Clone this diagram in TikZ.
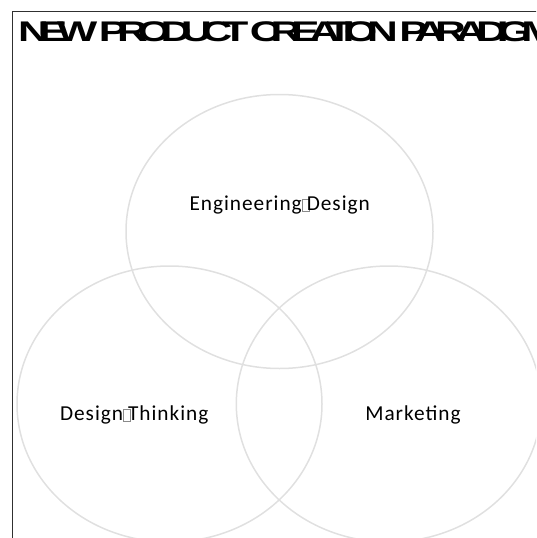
\documentclass[tikz,border=0pt]{standalone}
\usepackage{fontspec}
\setmainfont{Carlito}
\newfontfamily\titlefont[FakeStretch=1.5, LetterSpace=-35.9]{Liberation Sans Bold}
\newfontfamily\labelfont[LetterSpace=4.6]{Carlito}
\definecolor{ringgray}{HTML}{E0E0E0}
\definecolor{framegray}{HTML}{303030}
\definecolor{boxgray}{HTML}{8A8A8A}
% placeholder glyph box drawn where a character is missing
\newcommand{\nochar}{\kern0.4pt\rlap{\color{boxgray}\setlength{\fboxsep}{0pt}\setlength{\fboxrule}{0.6pt}\fbox{\rule{0pt}{11pt}\hspace{6.2pt}}}\kern4.6pt}
\tikzset{
  ring/.style={draw=ringgray, line width=1.5pt},
  framebox/.style={draw=framegray, line width=1pt},
  vennlabel/.style={font=\labelfont\fontsize{21.3}{25}\selectfont, inner sep=0pt, anchor=base},
  titletext/.style={font=\titlefont\fontsize{28.4}{32}\selectfont, inner sep=0pt, anchor=base west}
}
\begin{document}
\begin{tikzpicture}[x=1pt,y=-1pt]
\useasboundingbox (0,0) rectangle (536,538);
\begin{scope}
  \clip (0,0) rectangle (536,538);
  % frame, open on the right and bottom
  \draw[framebox] (12.5,11) rectangle (620,620);
  % title
  \node[titletext] (title) at (18,41) {NEW PRODUCT CREATION PARADIGM};
  % three overlapping ellipses
  \draw[ring] (279.5,231.5) ellipse [x radius=153.5, y radius=137];
  \draw[ring] (169.5,404) ellipse [x radius=152.5, y radius=138];
  \draw[ring] (388.8,404) ellipse [x radius=152.5, y radius=138];
\end{scope}
% labels
\node[vennlabel] (eng) at (279.7,210.7) {Engineering\nochar Design};
\node[vennlabel] (dt) at (134.2,420.5) {Design\nochar Thinking};
\node[vennlabel] (mkt) at (413,420.5) {Marketing};
\end{tikzpicture}
\end{document}
